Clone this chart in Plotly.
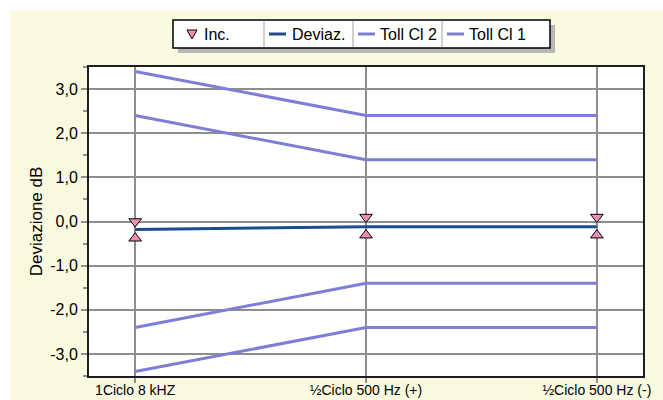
import plotly.graph_objects as go

# Measurement points
categories = ["1Ciclo 8 kHZ", "½Ciclo 500 Hz (+)", "½Ciclo 500 Hz (-)"]

# Measured deviation (dB)
deviaz = [-0.18, -0.12, -0.12]

# Uncertainty band limits (dB)
inc_hi = [0.0, 0.1, 0.1]
inc_lo = [-0.38, -0.31, -0.31]

# Tolerance limits (dB)
toll_cl2_hi = [3.4, 2.4, 2.4]
toll_cl2_lo = [-3.4, -2.4, -2.4]
toll_cl1_hi = [2.4, 1.4, 1.4]
toll_cl1_lo = [-2.4, -1.4, -1.4]

# Y axis ticks
y_tick_vals = [-3, -2, -1, 0, 1, 2, 3]
y_tick_labels = ["-3,0", "-2,0", "-1,0", "0,0", "1,0", "2,0", "3,0"]

legend_names = ["Inc.", "Deviaz.", "Toll Cl 2", "Toll Cl 1"]

FONT = "Liberation Sans, Arial, sans-serif"
C_TOLL = "#7E7ED6"
C_DEV = "#1F4C8C"
C_INC = "#F28DB8"
C_GRID = "#8E8E8E"
BG = "#FAFAE0"

W, H = 663, 400
L, R, T, B = 89, 643, 67, 376


def px_x(x):
    return (x - L) / (R - L)


def px_y(y):
    return (B - y) / (B - T)


fig = go.Figure()

for hi, lo in ((toll_cl2_hi, toll_cl2_lo), (toll_cl1_hi, toll_cl1_lo)):
    for ys in (hi, lo):
        fig.add_trace(go.Scatter(x=categories, y=ys, mode="lines",
                                 line=dict(color=C_TOLL, width=3),
                                 showlegend=False, hoverinfo="skip"))

fig.add_trace(go.Scatter(x=categories, y=deviaz, mode="lines",
                         line=dict(color=C_DEV, width=3),
                         showlegend=False))

fig.add_trace(go.Scatter(
    x=categories + categories, y=inc_hi + inc_lo, mode="markers",
    marker=dict(symbol=["triangle-down"] * 3 + ["triangle-up"] * 3,
                size=11, color=C_INC, line=dict(color="black", width=1)),
    showlegend=False))

shapes = [
    # white strips outside the cream panel
    dict(type="rect", xref="paper", yref="paper", layer="below",
         x0=px_x(0), x1=px_x(W), y0=px_y(11), y1=px_y(0),
         fillcolor="white", line=dict(width=0)),
    dict(type="rect", xref="paper", yref="paper", layer="below",
         x0=px_x(0), x1=px_x(10), y0=px_y(H), y1=px_y(0),
         fillcolor="white", line=dict(width=0)),
    # legend shadow and box
    dict(type="rect", xref="paper", yref="paper",
         x0=px_x(178), x1=px_x(555), y0=px_y(53), y1=px_y(25),
         fillcolor="#B8B8B8", line=dict(width=0)),
    dict(type="rect", xref="paper", yref="paper",
         x0=px_x(173), x1=px_x(550), y0=px_y(48), y1=px_y(20),
         fillcolor="white", line=dict(color="black", width=1.5)),
]
for sx in (264, 353, 442):
    shapes.append(dict(type="line", xref="paper", yref="paper",
                       x0=px_x(sx), x1=px_x(sx), y0=px_y(47), y1=px_y(21),
                       line=dict(color="#A0A0A0", width=1)))

# legend symbols
ly = 34
shapes.append(dict(type="path", xref="paper", yref="paper",
                   path="M {a},{b} L {c},{b} L {d},{e} Z".format(
                       a=px_x(187), c=px_x(197), b=px_y(30),
                       d=px_x(192), e=px_y(39)),
                   fillcolor=C_INC, line=dict(color="black", width=1)))
for x0, col in ((269, C_DEV), (358, C_TOLL), (447, C_TOLL)):
    shapes.append(dict(type="line", xref="paper", yref="paper",
                       x0=px_x(x0), x1=px_x(x0 + 17), y0=px_y(ly), y1=px_y(ly),
                       line=dict(color=col, width=3)))

annotations = []
for name, tx in zip(legend_names, (202, 290, 378, 467)):
    annotations.append(dict(text=name, xref="paper", yref="paper",
                            x=px_x(tx), y=px_y(ly), xanchor="left",
                            yanchor="middle", showarrow=False,
                            font=dict(family=FONT, size=16, color="black")))

fig.update_layout(
    width=W, height=H,
    margin=dict(l=L, r=W - R, t=T, b=H - B),
    paper_bgcolor=BG, plot_bgcolor="white",
    font=dict(family=FONT, color="black"),
    showlegend=False,
    shapes=shapes, annotations=annotations,
)

fig.update_xaxes(
    range=[-0.2, 2.2], tickvals=categories, ticktext=categories,
    showgrid=True, gridcolor=C_GRID, gridwidth=2,
    ticks="outside", ticklen=5, tickwidth=2, tickcolor=C_GRID,
    ticklabelstandoff=-5,
    showline=True, mirror=True, linecolor="#1E1E1E", linewidth=2,
    zeroline=False, tickfont=dict(size=14, family=FONT),
    automargin=False,
)
fig.update_yaxes(
    range=[-3.5, 3.5], tickvals=y_tick_vals, ticktext=y_tick_labels,
    showgrid=True, gridcolor=C_GRID, gridwidth=2,
    ticks="outside", ticklen=6, tickwidth=1.5, tickcolor=C_GRID,
    minor=dict(dtick=0.5, ticks="outside", ticklen=4, tickcolor=C_GRID,
               showgrid=False),
    showline=True, mirror=True, linecolor="#1E1E1E", linewidth=2,
    zeroline=False, tickfont=dict(size=16, family=FONT),
    title=dict(text="Deviazione dB", font=dict(size=17, family=FONT),
               standoff=3),
    automargin=False,
)

fig.write_html("out.html")
